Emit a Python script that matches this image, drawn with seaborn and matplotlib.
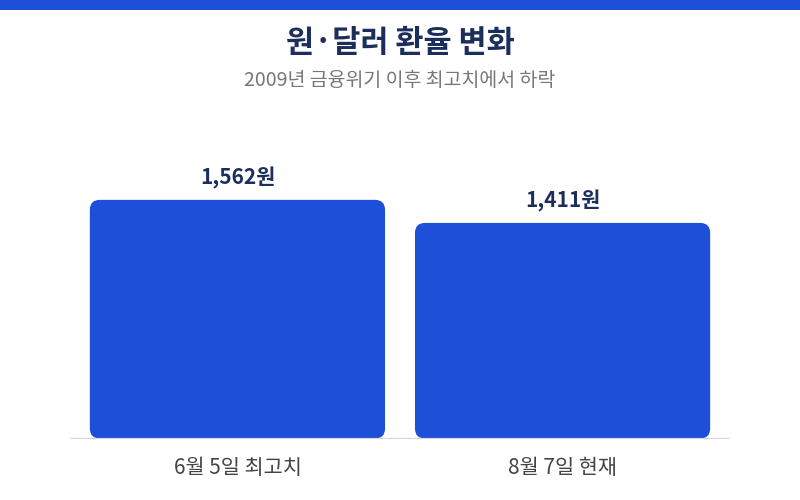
import matplotlib
matplotlib.use("Agg")
import matplotlib.pyplot as plt
import pandas as pd
import seaborn as sns
from matplotlib.patches import FancyBboxPatch, Rectangle

categories = ["6월 5일 최고치", "8월 7일 현재"]
rates = [1562, 1411]
value_labels = ["1,562원", "1,411원"]

title = "원·달러 환율 변화"
subtitle = "2009년 금융위기 이후 최고치에서 하락"

BAR_COLOR = "#1E4FD8"
NAVY = "#1B2E5C"

sns.set_theme(style="white")
plt.rcParams["font.family"] = ["Noto Sans CJK KR", "DejaVu Sans"]

df = pd.DataFrame({"date": categories, "rate": rates})

fig = plt.figure(figsize=(8, 5), dpi=100)
ax = fig.add_axes([70 / 800, (500 - 438.5) / 500, 660 / 800, 275 / 500])

sns.barplot(data=df, x="date", y="rate", color=BAR_COLOR, width=0.908,
            saturation=1, ax=ax)
ax.set_xlim(-0.515, 1.515)
ax.set_ylim(0, 1800)

# swap square bars for rounded ones
r_x = 10 / 325
r_y = 10 / ((438.5 - 200) / 1562)
for p in list(ax.patches):
    x, w, h = p.get_x(), p.get_width(), p.get_height()
    p.remove()
    ax.add_patch(FancyBboxPatch((x, 0), w, h,
                                boxstyle=f"round,pad=0,rounding_size={r_x}",
                                mutation_aspect=r_y / r_x,
                                fc=BAR_COLOR, ec="none", zorder=2))

for i, (v, lab) in enumerate(zip(rates, value_labels)):
    ax.annotate(lab, (i, v), xytext=(0, 8), textcoords="offset points",
                ha="center", va="bottom", fontsize=15, fontweight="bold",
                color=NAVY)

ax.axhline(0, color="#D6D6D6", lw=1.6, zorder=3)
for s in ax.spines.values():
    s.set_visible(False)
ax.set_yticks([])
ax.set_xlabel("")
ax.set_ylabel("")
ax.tick_params(axis="x", length=0, pad=13, labelsize=15, labelcolor="#444444")

# top accent strip
fig.patches.append(Rectangle((0, 490 / 500), 1, 10 / 500, transform=fig.transFigure,
                             fc=BAR_COLOR, ec="none"))
fig.text(0.5, 1 - 43 / 500, title, ha="center", va="center", fontsize=22,
         fontweight="bold", color=NAVY)
fig.text(0.5, 1 - 80 / 500, subtitle, ha="center", va="center", fontsize=14,
         color="#777777")

fig.savefig("out.png", dpi=100, facecolor="white")
